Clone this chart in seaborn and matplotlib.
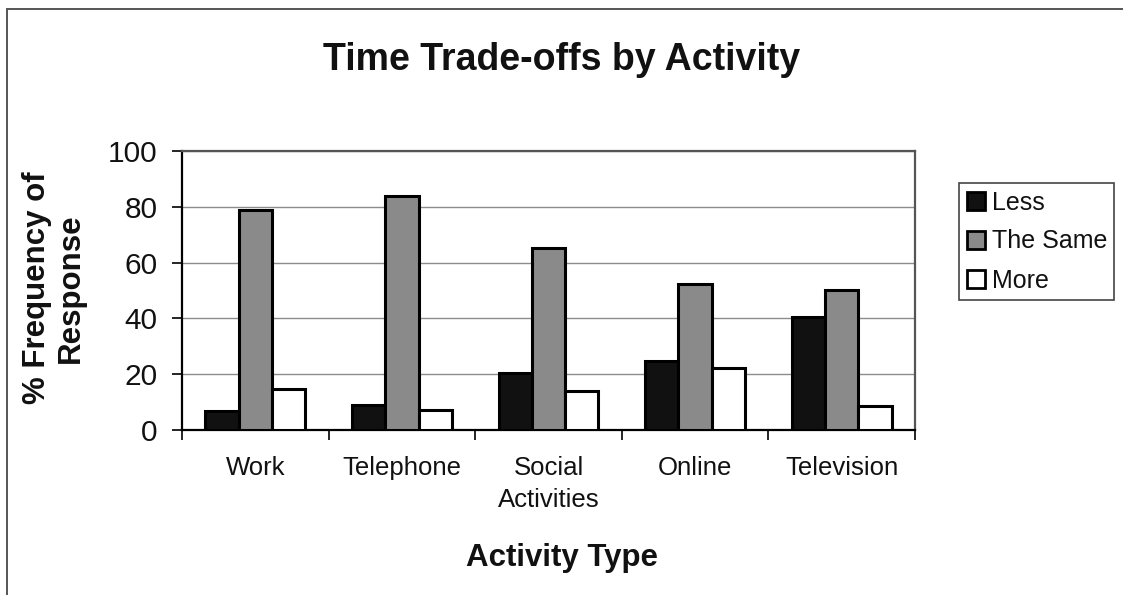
import matplotlib
matplotlib.use("Agg")
import matplotlib.pyplot as plt
from matplotlib.lines import Line2D
from matplotlib.patches import Patch
import seaborn as sns
import pandas as pd

# Survey results: share of respondents (%) per activity
activities = ["Work", "Telephone", "Social\nActivities", "Online", "Television"]
responses = ["Less", "The Same", "More"]
less = [6.8, 9.0, 20.6, 24.8, 40.6]
same = [78.8, 83.8, 65.2, 52.3, 50.2]
more = [14.6, 7.3, 13.8, 22.4, 8.6]
y_ticks = [0, 20, 40, 60, 80, 100]

colors = ["#111111", "#8a8a8a", "#ffffff"]

rows = []
for series_name, values in zip(responses, [less, same, more]):
    for act, v in zip(activities, values):
        rows.append({"Activity": act, "Response": series_name, "Percent": v})
df = pd.DataFrame(rows)

sns.set_theme(style="white")
plt.rcParams["font.family"] = ["Liberation Sans", "DejaVu Sans"]

fig = plt.figure(figsize=(11.23, 5.95), dpi=100)
ax = fig.add_axes([182 / 1123, 1 - 430 / 595, (915 - 182) / 1123, (430 - 151) / 595])

sns.barplot(
    data=df, x="Activity", y="Percent", hue="Response",
    order=activities, hue_order=responses, palette=colors,
    width=0.68, edgecolor="black", linewidth=2.2, ax=ax, legend=False,
    zorder=3,
)

ax.set_xlim(-0.5, len(activities) - 0.5)
ax.set_ylim(0, 100)
ax.set_yticks(y_ticks)
ax.set_xlabel("")
ax.set_ylabel("")

# horizontal gridlines
ax.yaxis.grid(True, color="#8c8c8c", linewidth=1.0, zorder=0)
ax.xaxis.grid(False)
ax.set_axisbelow(True)

for side in ["left", "bottom"]:
    ax.spines[side].set_color("black")
    ax.spines[side].set_linewidth(1.6)
for side in ["top", "right"]:
    ax.spines[side].set_color("#555555")
    ax.spines[side].set_linewidth(1.6)
    ax.spines[side].set_visible(True)

# category-boundary ticks on the x axis
ax.set_xticks([i + 0.5 for i in range(-1, len(activities))], minor=True)
ax.tick_params(axis="x", which="minor", bottom=True, length=7, width=1.2,
               color="black", direction="out")
ax.tick_params(axis="x", which="major", bottom=True, length=0, pad=19,
               labelsize=18.5, labelcolor="#111111")
ax.tick_params(axis="y", which="major", left=True, length=7, width=1.2,
               color="black", direction="out", pad=10.5,
               labelsize=21.5, labelcolor="#111111")
for lbl in ax.get_xticklabels():
    lbl.set_linespacing(1.4)

fig.text(0.5, 1 - 60 / 595, "Time Trade-offs by Activity", ha="center",
         va="center", fontsize=27, fontweight="bold", color="#111111")
fig.text(562 / 1123, 1 - 558 / 595, "Activity Type", ha="center",
         va="center", fontsize=22.5, fontweight="bold", color="#111111")
fig.text(54 / 1123, 1 - 288 / 595, "% Frequency of\nResponse", ha="center",
         va="center", rotation=90, fontsize=22.5, fontweight="bold",
         color="#111111", linespacing=1.2, multialignment="center")

handles = [Patch(facecolor=c, edgecolor="black", linewidth=2.0) for c in colors]
leg = fig.legend(
    handles, responses, loc="upper left",
    bbox_to_anchor=(959 / 1123, 1 - 183 / 595),
    fontsize=18, frameon=True, fancybox=False, framealpha=1,
    edgecolor="#444444", handlelength=0.75, handleheight=0.75,
    handletextpad=0.25, labelspacing=0.6, borderpad=0.3,
    borderaxespad=0,
)
leg.get_frame().set_linewidth(1.2)
for t in leg.get_texts():
    t.set_color("#111111")

# outer chart border
fig.add_artist(Line2D([7 / 1123, 7 / 1123], [0, 1 - 9 / 595],
                      transform=fig.transFigure, color="#555555", linewidth=1.4))
fig.add_artist(Line2D([7 / 1123, 1], [1 - 9 / 595, 1 - 9 / 595],
                      transform=fig.transFigure, color="#555555", linewidth=1.4))

fig.savefig("out.png", dpi=100, facecolor="white")
